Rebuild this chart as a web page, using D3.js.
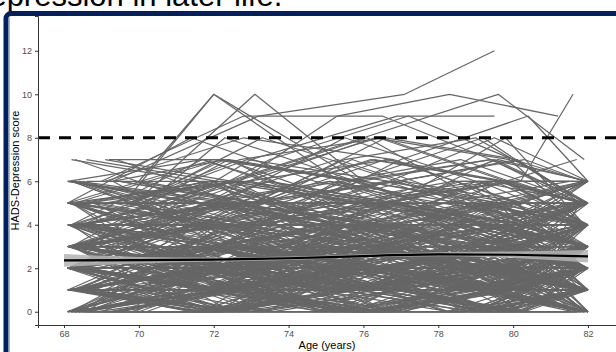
<!DOCTYPE html>
<html>
<head>
<meta charset="utf-8">
<script src="https://cdn.jsdelivr.net/npm/d3@7"></script>
<style>
  html, body { margin: 0; padding: 0; background: #fff; overflow: hidden; }
  svg { display: block; font-family: "Liberation Sans", Arial, sans-serif; }
</style>
</head>
<body>
<svg id="chart" width="616" height="352"></svg>
<script>
// ages at each visit, one row per participant
const visitAges = [
  [68.1,71.6,75.2,78.9,81.9],[68.2,72.1,75.9,79.3,82.0],[68.3,71.9,76.3,79.8,81.8],[68.4,72.4,75.6,79.1,81.9],
  [68.5,72.8,76.8,79.5,82.0],[68.1,71.4,75.0,78.6,81.7],[68.2,72.6,76.1,80.0,81.9],[68.3,71.7,75.4,78.4,82.0],
  [68.6,73.0,77.0,79.9,81.8],[68.2,72.2,76.5,79.6,82.0],[68.1,71.5,74.8,78.2,81.5],[68.4,72.0,75.7,79.0,81.9],
  [68.7,72.9,76.6,80.1,82.0],[68.3,71.8,75.3,78.8,81.6],[68.2,72.3,76.2,79.4,82.0],[68.5,72.5,76.9,80.3,81.9],
  [68.1,71.3,74.9,78.5,81.8],[68.9,73.2,77.2,80.2,82.0],[68.4,71.9,75.5,79.2,81.9],[68.2,72.7,76.4,79.7,82.0],
  [68.3,71.6,75.1,78.7,81.7],[68.6,72.1,75.8,79.5,82.0],[69.2,72.4,76.0,79.3,81.9],[68.1,72.0,76.7,80.0,81.8],
  [68.5,71.5,75.3,78.9,82.0],[68.2,72.8,76.3,79.8,81.9],[68.4,72.2,75.6,79.1,82.0],[68.3,71.4,74.7,78.3,81.6],
  [68.7,72.6,76.8,80.4,81.9],[68.1,71.8,75.9,79.6,82.0],[68.2,72.3,76.1,79.9,81.8],[68.5,73.1,77.3,80.2,82.0],
  [68.3,71.7,75.2,78.6,81.9],[68.9,72.9,76.5,79.4,82.0],[68.1,72.5,76.6,80.1,81.7],[68.4,71.6,75.0,78.5,81.9],
  [68.2,72.0,75.7,79.0,82.0],[68.6,72.7,76.9,79.7,81.8],[68.3,71.9,75.4,79.2,82.0],[68.1,72.4,76.2,79.5,81.9],
  [69.5,72.8,76.4,79.9,82.0],[69.8,73.3,77.1,80.3,81.9],[70.1,73.5,76.9,80.0,82.0],[69.3,72.5,75.8,79.1,81.7],
  [70.4,73.6,77.2,80.4,82.0],[69.0,72.2,75.5,78.8,81.8],[69.6,73.0,76.7,79.6,82.0],[70.0,73.4,77.0,80.2,81.9],
  [69.4,72.7,76.1,79.4,82.0],[68.8,72.1,75.6,78.9,81.6],[69.9,73.1,76.6,79.8,81.9],[69.1,72.6,76.3,79.3,82.0],
  [70.3,73.2,76.8,80.1,81.8],[68.6,71.9,75.3,78.6,82.0],[69.7,72.9,76.5,79.7,81.9],[68.2,71.5,75.1,78.4,81.9],
  [68.3,72.3,76.0,79.6,82.0],[68.1,71.8,75.8,79.3,81.8],[68.4,72.6,76.7,80.0,82.0],[68.2,71.4,74.8,78.1,81.9],
  [68.5,72.9,76.4,79.9,82.0],[68.3,72.1,75.5,78.8,81.7],[68.1,72.4,76.9,80.3,81.9],[68.6,71.6,75.0,78.5,82.0],
  [68.2,72.2,76.6,79.5,81.8],[68.4,71.7,75.9,79.8,82.0],[68.1,72.8,77.1,80.1,81.9],[68.3,71.5,74.6,78.2,81.6],
  [68.5,72.0,76.2,79.4,82.0],[68.2,72.7,76.8,79.7,81.9],[68.7,71.8,75.2,78.7,82.0],[68.1,72.3,75.7,79.1,81.8],
  [68.4,72.5,76.3,79.6,82.0],[68.2,71.3,75.4,79.0,81.9],[68.3,72.9,77.0,80.2,82.0],[68.6,72.1,75.6,78.9,81.7],
  [68.1,71.9,76.1,79.9,82.0],[68.5,72.6,76.5,79.2,81.9],[68.2,71.6,74.9,78.3,82.0],[68.4,72.4,76.7,80.4,81.8],
  [69.2,72.3,75.7,79.0,82.0],[69.6,73.3,77.2,80.1,81.9],[70.2,73.5,76.6,79.5,82.0],[69.0,72.0,75.3,78.6,81.7],
  [69.4,72.8,76.2,79.8,81.9],[70.0,73.1,76.9,80.3,82.0],[68.8,72.5,75.9,79.3,81.8],[69.8,73.0,76.4,79.7,82.0],
  [69.1,72.2,75.5,78.9,81.9],[70.4,73.4,77.3,80.0,82.0],
  [68.2,71.7,75.3,78.8,81.9],[68.5,72.4,76.1,79.6,82.0],[68.1,72.0,75.8,79.2,81.8],[68.3,72.8,76.6,80.0,82.0],
  [68.4,71.5,75.0,78.5,81.9],[68.7,72.6,76.3,79.7,82.0],[69.3,72.3,75.6,79.1,81.7],[68.2,71.9,76.0,79.4,82.0],
  [68.1,72.2,75.4,78.6,81.9],[68.6,73.0,76.8,80.2,82.0],[69.7,72.7,76.5,79.9,81.8],[68.3,71.6,75.2,78.7,82.0],
  [70.1,73.2,76.9,80.1,81.9],[68.2,72.5,76.2,79.3,82.0],[68.9,72.1,75.7,79.0,81.8],[68.4,72.9,77.1,80.3,82.0],
  [70.0,72.0,76.2,79.5,82.0],[69.6,72.0,75.9,79.2,81.8],[69.9,73.1,76.0,79.6,81.9],[69.2,72.7,75.3,78.3,81.2],
  [69.3,73.2,77.1,79.5],[70.1,73.0,76.9,79.5],[68.7,72.4,76.0,79.6,81.9],[68.3,71.8,75.6,80.2,81.6],
  [69.8,72.9,76.7,79.5,82.0],[69.0,72.8,76.5,79.4,81.8],
  [68.5,72.2,75.5,79.0,82.0],[69.4,73.4,76.8,79.8,81.9],[68.1,71.4,74.7,78.1,81.7],[70.3,73.6,77.0,80.4,82.0],
  [68.6,72.7,76.4,79.6,81.9],[69.1,72.5,76.1,79.2,81.8],[68.8,72.3,75.8,79.7,82.0],[69.5,73.1,76.6,80.1,81.9],
  [68.2,71.7,75.1,78.4,81.5],
  [68.1,72.1,76.0,79.1,81.9],[68.3,71.8,75.7,79.5,82.0],[68.2,72.6,76.3,80.0,81.8],[68.5,72.3,75.4,78.7,82.0],
  [68.1,71.5,75.5,79.4,81.9],[68.4,72.7,77.2,80.2,82.0],[68.2,71.9,75.9,79.0,81.7],[68.6,72.4,76.4,79.7,82.0],
  [68.3,72.0,75.3,78.6,81.9],[68.1,72.8,76.7,80.1,82.0],[69.2,72.6,76.0,79.6,81.8],[69.7,73.2,76.8,80.3,82.0],
  [70.2,73.4,77.1,79.9,81.9],[69.5,72.4,75.8,79.2,82.0],[69.0,72.9,76.5,79.8,81.7],[68.8,72.0,75.4,78.9,82.0],
  [70.0,73.3,76.9,80.4,81.9],[69.4,72.5,76.2,79.4,82.0],[68.4,71.6,75.6,79.3,81.8],[68.2,72.2,76.1,79.6,82.0],
  [68.5,71.7,74.8,78.3,81.9],[68.1,72.5,76.6,80.0,82.0],[68.3,71.4,75.2,78.8,81.6],[68.7,72.8,77.0,79.7,81.9],
  [68.2,72.1,75.6,79.1,82.0],
  [68.4,72.3,75.9],[68.1,71.8],[69.3,72.9,76.4],[68.6,72.6,76.1,79.3],[68.2,72.0,75.5],
  // low scorers
  [68.1,71.9,75.4,79.0,82.0],[68.2,72.4,76.0,79.7,81.9],[68.3,71.5,75.8,79.2,81.8],[68.1,72.7,76.5,80.0,82.0],
  [68.4,72.0,75.1,78.6,81.9],[68.2,71.7,76.2,79.9,82.0],[68.5,72.5,76.8,80.2,81.7],[68.1,72.2,75.6,79.4,82.0],
  [68.3,71.3,74.9,78.5,81.9],[68.6,72.8,77.1,80.3,82.0],[68.2,72.1,75.3,78.9,81.8],[68.1,71.6,75.7,79.5,82.0],
  [68.4,72.6,76.4,79.8,81.9],[68.3,72.3,75.9,79.1,82.0],[68.2,71.8,75.0,78.4,81.7],[68.7,72.9,76.7,80.1,82.0],
  [68.1,72.0,76.1,79.6,81.9],[68.5,71.4,74.8,78.2,81.8],[68.2,72.5,76.6,80.4,82.0],[68.4,71.9,75.5,79.3,81.9],
  [69.1,72.4,75.9,79.5,82.0],[69.4,72.9,76.3,79.9,81.8],[69.8,73.3,76.8,80.2,82.0],[70.2,73.5,77.0,80.0,81.9],
  [69.6,72.6,76.0,79.4,82.0],[69.0,72.1,75.4,78.7,81.7],[70.0,73.2,76.6,79.8,82.0],[69.3,72.8,76.4,79.6,81.9],
  [70.4,73.6,77.2,80.3,82.0],[69.7,73.0,76.5,79.7,81.8],[68.1,71.7,75.3,78.8,82.0],[68.3,72.4,76.3,79.9,81.9],
  [68.2,71.5,75.6,79.2,82.0],[68.6,72.2,75.8,79.4,81.8],[68.1,72.9,77.0,80.1,82.0],[68.4,71.8,75.2,78.6,81.9],
  [68.2,72.6,76.7,80.3,82.0],[68.5,72.1,75.5,79.0,81.7],[68.3,71.6,74.7,78.3,82.0],[68.1,72.3,76.2,79.7,81.9],
  [68.2,72.8,76.9,80.0,82.0],[68.4,71.4,75.0,78.5,81.8],[68.7,72.5,76.1,79.6,82.0],[68.1,72.0,75.7,79.1,81.9],
  [68.3,72.7,76.6,79.9,82.0],[68.2,71.9,75.4,78.9,81.6],[68.5,72.4,76.4,80.2,82.0],[68.1,71.6,75.1,78.7,81.9],
  [68.6,72.6,76.8,79.8,82.0],[68.2,72.2,75.9,79.3,81.8],
  // middle scorers
  [68.1,72.1,75.6,79.2,82.0],[68.3,71.8,76.0,79.7,81.9],[68.2,72.5,76.5,80.1,82.0],[68.4,71.5,75.1,78.6,81.8],
  [68.1,72.8,76.8,80.3,82.0],[68.5,72.3,75.8,79.4,81.9],[68.2,71.7,75.4,79.0,82.0],[68.3,72.6,76.3,79.9,81.7],
  [68.1,72.0,75.9,79.5,82.0],[68.6,71.9,75.3,78.8,81.9],[68.2,72.4,76.6,80.0,82.0],[68.4,71.6,75.0,78.4,81.8],
  [68.1,72.7,76.9,80.2,82.0],[68.3,72.2,75.7,79.3,81.9],[68.2,71.4,74.9,78.5,82.0],[69.2,72.7,76.2,79.6,81.9],
  [69.6,73.1,76.7,80.0,82.0],[70.1,73.4,77.0,80.4,81.8],[69.4,72.5,75.9,79.3,82.0],[69.9,73.2,76.5,79.8,81.9],
  [69.0,72.3,75.6,79.0,82.0],[70.3,73.5,76.9,80.1,81.7],[69.5,72.8,76.3,79.7,82.0],[68.9,72.0,75.5,78.9,81.9],
  [69.8,73.0,76.6,80.2,82.0],[68.1,71.8,75.5,79.1,81.9],[68.4,72.5,76.4,79.8,82.0],[68.2,72.0,75.2,78.7,81.8],
  [68.5,71.6,75.7,79.4,82.0],[68.1,72.9,77.1,80.3,81.9],[68.3,72.3,76.0,79.6,82.0],[68.2,71.5,74.8,78.3,81.7],
  [68.6,72.7,76.7,80.1,82.0],[68.1,72.2,75.8,79.2,81.9],[68.4,71.9,75.4,78.9,82.0],[68.2,72.6,76.5,80.0,81.8],
  [68.3,71.7,75.1,78.6,82.0],[68.1,72.4,76.2,79.7,81.9],[68.7,72.1,75.6,79.3,82.0],[68.2,72.8,76.9,80.4,81.8],
  [69.3,72.4,75.7,79.1,82.0],[69.7,72.9,76.4,79.9,81.9],[70.0,73.3,76.8,80.2,82.0],[69.1,72.6,76.1,79.5,81.8],
  [70.4,73.6,77.3,80.0,82.0],[68.3,71.3,74.6,78.2,81.9],[68.1,72.5,76.7,79.8,82.0],[68.5,72.1,75.3,78.8,81.7],
  [68.2,71.8,75.9,79.5,82.0],[68.4,72.7,76.6,80.3,81.9],
  // very low scorers
  [68.1,72.3,75.8,79.4,82.0],[68.2,71.6,75.3,78.9,81.9],[68.3,72.5,76.6,80.1,82.0],[68.1,71.9,75.6,79.2,81.8],
  [68.4,72.8,76.9,80.3,82.0],[68.2,72.0,75.1,78.6,81.9],[68.5,71.5,75.7,79.5,82.0],[68.1,72.6,76.4,79.9,81.7],
  [68.3,72.2,75.9,79.1,82.0],[68.2,71.7,74.9,78.5,81.9],[68.6,72.4,76.2,79.7,82.0],[68.1,72.9,77.0,80.2,81.8],
  [68.4,71.8,75.5,79.0,82.0],[68.2,72.1,76.1,79.6,81.9],[68.3,71.4,74.7,78.3,82.0],[68.1,72.7,76.8,80.0,81.9],
  [68.5,72.3,75.4,78.8,82.0],[68.2,71.9,75.9,79.4,81.7],[68.4,72.6,76.5,80.4,82.0],[68.1,71.5,75.2,78.7,81.9],
  [69.2,72.5,76.0,79.5,82.0],[69.5,72.9,76.4,79.8,81.9],[69.9,73.2,76.7,80.1,82.0],[70.3,73.5,77.1,80.3,81.8],
  [69.0,72.2,75.6,79.0,82.0],[69.7,73.0,76.5,79.7,81.9],[70.1,73.4,76.9,80.2,82.0],[69.3,72.7,76.2,79.6,81.7],
  [69.6,72.8,76.3,79.9,82.0],[68.8,72.1,75.5,78.9,81.9],[68.1,71.8,75.3,79.0,82.0],[68.3,72.4,76.3,79.8,81.9],
  [68.2,71.6,75.8,79.3,82.0],[68.4,72.7,76.7,80.1,81.8],[68.1,72.1,75.5,79.1,82.0],[68.5,71.9,75.0,78.4,81.9],
  [68.2,72.5,76.4,79.9,82.0],[68.3,71.5,75.6,79.4,81.7],[68.1,72.8,76.9,80.3,82.0],[68.6,72.2,75.7,79.2,81.9],
  [68.2,71.7,75.1,78.6,82.0],[68.4,72.4,76.6,80.0,81.8],[68.1,72.0,75.9,79.6,82.0],[68.3,72.6,76.2,79.7,81.9],
  [68.2,71.4,74.8,78.2,82.0],[69.1,72.3,75.8,79.3,81.9],[69.4,72.6,76.1,79.6,82.0],[69.8,73.1,76.6,80.0,81.8],
  [70.2,73.3,76.8,80.4,82.0],[69.5,72.9,76.3,79.8,81.9],[68.1,72.2,75.7,79.3,82.0],[68.3,71.7,75.4,79.0,81.9],
  [68.2,72.6,76.5,80.2,82.0],[68.5,72.0,75.2,78.8,81.8],[68.1,71.6,75.9,79.5,82.0],[68.4,72.9,77.1,80.1,81.9],
  [68.2,72.3,76.0,79.6,82.0],[68.3,71.8,75.3,78.7,81.7],[68.1,72.5,76.7,80.3,82.0],[68.6,72.1,75.6,79.2,81.9],
  // fluctuating scorers
  [68.1,72.2,76.0,79.6,82.0],[68.2,71.7,75.5,79.1,81.9],[68.3,72.6,76.6,80.1,82.0],[68.1,71.9,75.2,78.7,81.8],
  [68.4,72.4,76.3,79.9,82.0],[68.2,71.5,75.8,79.4,81.9],[68.1,72.8,76.9,80.2,82.0],[68.5,72.0,75.4,78.9,81.7],
  [68.3,72.3,76.1,79.7,82.0],[68.2,71.6,75.0,78.5,81.9],[68.1,72.5,76.5,80.0,82.0],[68.6,72.1,75.7,79.2,81.8],
  [68.2,71.8,75.3,78.8,82.0],[68.4,72.7,76.8,80.3,81.9],[68.1,72.0,75.9,79.5,82.0],[68.3,71.4,74.8,78.3,81.6],
  [68.2,72.9,77.1,80.4,82.0],[68.5,72.4,76.2,79.8,81.9],[68.1,71.7,75.6,79.0,82.0],[68.3,72.6,76.4,79.6,81.8],
  [69.2,72.5,76.0,79.4,82.0],[69.6,73.0,76.5,79.9,81.9],[70.0,73.3,76.8,80.2,82.0],[69.4,72.8,76.3,79.7,81.8],
  [70.3,73.5,77.1,80.0,82.0],[69.0,72.2,75.5,79.1,81.9],[69.8,73.1,76.6,80.3,82.0],[69.3,72.6,76.1,79.5,81.7],
  [70.1,73.4,76.9,80.1,82.0],[68.9,72.3,75.7,79.3,81.9],[68.1,72.1,75.4,79.0,82.0],[68.2,72.7,76.7,80.2,81.9],
  [68.4,71.6,75.1,78.6,82.0],[68.1,72.4,76.2,79.8,81.8],[68.3,71.9,75.8,79.3,82.0],[68.5,72.8,77.0,80.1,81.9],
  [68.2,72.2,75.6,79.1,82.0],[68.1,71.5,74.9,78.4,81.7],[68.6,72.5,76.4,79.9,82.0],[68.2,72.0,75.3,78.9,81.9],
  [68.3,72.6,76.8,80.4,82.0],[68.1,71.8,75.5,79.2,81.8],[68.4,72.3,76.0,79.6,82.0],[68.2,72.9,76.9,80.0,81.9],
  [68.1,71.6,75.2,78.7,82.0],[68.5,72.1,75.9,79.4,81.6],[68.3,72.7,76.6,80.2,82.0],[68.2,71.4,74.7,78.2,81.9],
  [68.1,72.4,76.3,79.7,82.0],[68.7,72.0,75.6,79.1,81.8],[69.1,72.4,75.8,79.2,82.0],[69.5,72.7,76.2,79.6,81.9],
  [69.9,73.2,76.7,80.1,82.0],[70.2,73.6,77.2,80.3,81.8],[69.7,72.9,76.4,79.8,82.0],[68.8,72.2,75.6,79.0,81.9],
  [69.4,72.5,75.9,79.3,82.0],[70.4,73.3,76.7,79.9,81.9],[69.0,72.8,76.3,79.7,82.0],[69.6,73.1,76.5,80.0,81.7],
  // higher scorers
  [68.3,72.2,75.9,79.4,82.0],[68.1,71.7,75.4,79.1,81.9],[68.6,72.9,76.7,80.2,82.0],[69.4,72.6,76.2,79.7,81.8],
  [68.2,72.4,76.0,79.5,82.0],[69.9,73.3,76.9,80.3,81.9],[68.4,71.8,75.5,79.0,82.0],[70.2,73.5,77.2,80.0,81.9],
  [68.1,72.6,76.4,79.8,81.7],[69.1,72.8,76.8,80.1,82.0],[68.5,72.3,75.7,79.2,81.8],[68.2,71.6,75.1,78.6,82.0],
  [69.6,72.9,76.3,79.9,81.9],[68.7,72.0,75.6,79.4,82.0]
];

// HADS depression score at each visit, same order as visitAges
const hadsScores = [
  [2,3,2,1,2],[1,0,2,2,3],[3,2,4,3,2],[0,1,0,2,1],
  [4,3,5,4,3],[2,2,1,3,2],[5,4,3,4,5],[1,2,3,2,1],
  [0,0,1,0,2],[3,4,2,3,3],[6,5,4,5,6],[2,1,2,1,0],
  [1,3,2,2,4],[3,3,4,2,2],[0,2,1,1,0],[4,2,3,5,4],
  [1,1,0,2,3],[2,4,3,2,2],[5,6,4,3,4],[2,0,1,3,2],
  [7,5,6,4,5],[7,6,5,6,4],[7,7,6,5,5],[3,2,0,1,1],
  [1,0,2,0,1],[4,5,3,4,6],[2,3,3,2,1],[0,1,1,0,0],
  [3,1,2,4,3],[5,3,4,2,3],[1,2,2,3,2],[6,4,5,3,4],
  [2,1,3,1,2],[0,1,0,1,2],[3,4,3,5,3],[4,2,1,2,3],
  [2,2,3,4,2],[1,3,1,0,1],[5,5,6,4,3],[0,2,2,1,1],
  [3,2,4,3,4],[2,1,0,2,3],[4,6,5,3,4],[1,0,1,2,0],
  [2,4,3,3,2],[3,3,2,4,5],[5,4,6,5,4],[1,2,1,1,3],
  [0,0,2,1,1],[2,3,1,2,2],[6,5,7,6,5],[3,1,2,1,2],
  [2,2,4,3,1],[4,3,3,2,4],[1,2,0,1,0],[2,4,3,3,2],
  [0,1,1,2,1],[3,2,2,0,1],[2,2,3,3,4],[1,3,2,1,2],
  [5,3,4,4,2],[2,1,1,2,1],[4,4,2,3,3],[0,2,0,1,3],
  [3,5,4,2,3],[1,1,2,2,0],[2,0,3,1,2],[6,4,3,4,5],
  [1,2,1,3,2],[3,3,5,4,4],[2,1,0,0,1],[4,2,3,5,3],
  [0,1,2,1,1],[2,3,2,3,5],[1,0,1,2,2],[3,4,4,3,2],
  [5,4,2,3,4],[2,2,1,0,1],[1,2,3,2,3],[3,1,2,2,2],
  [2,3,3,1,2],[4,5,3,4,3],[1,1,2,3,2],[0,2,1,1,2],
  [3,2,4,2,1],[2,3,2,4,3],[4,3,5,3,4],[1,0,0,1,0],
  [5,6,4,4,3],[2,1,3,2,3],
  [6,5,7,5,4],[4,6,5,7,6],[5,7,6,4,5],[6,4,6,5,6],
  [5,5,4,6,3],[3,5,7,6,4],[6,7,5,5,4],[4,6,4,3,5],
  [5,3,6,7,5],[6,6,4,5,6],[5,7,8,6,5],[4,4,5,3,5],
  [6,5,6,7,5],[3,5,4,6,6],[5,4,7,5,3],[4,5,5,4,6],
  [6,10,5,4,3],[5,10,6,4,4],[5,10,6,5,6],[5,6,9,10,9],
  [6,9,10,12],[4,7,9,9],[4,6,8,10,7],[3,4,5,6,10],
  [5,7,6,8,6],[6,9,9,7,5],
  [4,5,8,6,5],[3,6,5,8,4],[5,8,6,5,4],[2,4,7,9,6],
  [2,5,3,6,5],[7,6,8,5,4],[3,8,6,4,3],[6,5,8,7,5],
  [4,7,5,6,6],
  [0,0,0,1,1],[1,1,0,0,0],[0,1,1,1,2],[2,2,2,3,3],
  [1,0,1,1,0],[3,2,3,2,4],[0,0,2,0,0],[2,1,1,2,3],
  [1,2,0,1,1],[2,3,2,2,1],[0,1,0,0,1],[1,1,3,2,2],
  [0,2,1,0,0],[2,0,1,1,2],[3,1,0,2,1],[1,3,1,0,2],
  [0,0,1,2,0],[2,2,0,1,3],[0,1,3,1,0],[3,0,2,2,1],
  [1,2,2,0,1],[2,1,3,3,2],[0,2,1,2,0],[1,0,0,1,3],
  [4,3,2,1,2],
  [3,4,6],[2,5],[1,3,2],[4,2,3,5],[0,2,4],
  // low scorers
  [1,2,1,2,2],[2,1,3,2,2],[0,1,2,1,1],[3,2,2,3,2],
  [2,3,1,1,2],[1,0,0,2,1],[3,3,2,1,3],[2,2,4,3,2],
  [0,1,2,2,0],[4,3,3,2,3],[1,1,1,0,2],[2,0,1,3,3],
  [3,4,2,2,1],[1,2,2,1,0],[2,1,3,4,2],[0,2,1,1,1],
  [3,2,3,2,4],[1,3,2,0,1],[2,2,1,2,3],[0,0,1,1,2],
  [2,3,3,2,2],[1,2,0,1,1],[3,1,2,3,2],[2,2,3,1,0],
  [4,3,2,2,3],[1,1,2,3,1],[0,2,2,1,2],[2,4,3,3,2],
  [1,0,1,0,1],[3,2,4,2,3],[2,1,2,2,1],[1,3,2,3,2],
  [3,2,1,1,0],[0,1,0,2,1],[2,2,2,1,3],[4,2,3,3,2],
  [1,1,3,2,2],[2,0,1,1,1],[3,3,2,4,3],[0,1,2,0,2],
  [2,3,1,2,1],[1,2,2,3,3],[3,1,0,1,2],[2,2,3,2,2],
  [1,0,2,2,1],[0,2,1,1,0],[2,1,2,3,4],[3,4,2,1,2],
  [1,1,1,2,2],[2,3,3,2,1],
  // middle scorers
  [4,3,5,4,3],[5,4,3,4,5],[3,5,4,3,4],[4,4,6,5,3],
  [5,3,4,5,4],[3,4,3,5,5],[6,5,4,4,3],[4,5,5,3,4],
  [3,3,5,4,6],[5,6,4,3,4],[4,2,4,5,3],[3,4,4,2,5],
  [5,5,3,4,4],[4,3,6,4,3],[6,4,5,3,4],[4,5,3,5,4],
  [5,4,5,4,6],[3,5,4,3,5],[4,6,5,4,3],[5,3,4,6,4],
  [3,4,5,5,4],[4,4,3,4,5],[6,5,5,3,4],[4,3,4,5,3],
  [5,5,6,4,5],[3,5,3,4,4],[4,4,5,6,4],[5,3,4,3,5],
  [4,5,4,4,3],[3,4,6,5,4],[6,4,4,5,5],[4,3,5,4,3],
  [5,6,5,3,4],[4,4,3,5,6],[3,5,4,4,4],[5,4,5,6,5],
  [4,6,4,3,4],[6,5,3,4,3],[3,3,4,5,5],[4,5,6,4,4],
  [5,4,4,3,5],[4,6,5,5,4],[6,4,5,4,3],[3,5,4,6,5],
  [5,3,4,4,4],[4,4,5,3,3],[5,5,4,5,6],[4,3,6,4,4],
  [3,4,4,5,3],[6,5,5,4,5],
  // very low scorers
  [0,0,1,0,0],[1,0,0,1,1],[0,1,0,0,1],[2,1,0,0,0],
  [1,1,1,0,2],[0,0,2,1,0],[1,2,0,0,1],[0,1,1,2,0],
  [2,0,1,1,1],[1,1,0,2,2],[0,0,0,1,0],[1,2,1,0,1],
  [2,2,0,1,0],[0,1,2,2,1],[1,0,1,1,2],[3,2,1,0,1],
  [0,0,1,2,1],[2,1,1,0,0],[1,0,2,1,1],[0,2,0,0,2],
  [1,1,0,1,0],[0,1,1,0,1],[2,0,0,1,2],[1,2,1,1,0],
  [0,0,2,0,1],[1,1,0,2,2],[3,2,2,1,1],[0,1,0,0,0],
  [2,2,1,3,2],[1,0,1,1,1],[2,3,2,2,3],[3,2,3,1,2],
  [2,2,1,2,2],[3,3,2,2,1],[1,2,3,3,2],[2,1,2,3,3],
  [3,2,2,1,2],[2,3,3,2,1],[1,2,2,2,3],[3,3,1,2,2],
  [2,2,2,3,1],[1,3,2,1,2],[3,1,2,2,3],[2,2,3,2,2],
  [1,1,2,2,1],[2,3,2,1,3],[3,2,2,3,2],[2,1,3,2,2],
  [1,2,2,2,1],[3,3,2,1,2],[2,1,1,3,2],[1,2,3,2,2],
  [2,3,1,1,2],[3,2,2,2,3],[2,2,3,1,1],[1,1,2,3,2],
  [3,2,1,2,1],[2,3,2,2,2],[1,2,2,1,3],[2,1,3,2,2],
  // fluctuating scorers
  [0,3,1,4,2],[3,0,4,1,3],[1,4,0,3,0],[4,1,3,0,2],
  [2,5,1,4,1],[5,2,4,1,3],[0,2,5,2,0],[3,6,2,5,2],
  [1,3,0,2,5],[4,0,2,4,1],[2,0,3,0,3],[0,4,2,1,4],
  [5,1,3,5,2],[1,5,3,0,2],[3,1,5,2,0],[2,4,0,3,1],
  [6,3,5,2,4],[0,2,4,1,3],[4,2,0,3,5],[1,4,2,5,1],
  [3,0,2,4,1],[0,3,1,3,0],[5,2,4,1,2],[2,5,2,0,4],
  [1,3,5,2,1],[4,1,0,3,2],[0,2,4,3,0],[6,3,2,5,3],
  [2,0,3,1,4],[3,5,1,2,0],[1,4,1,3,1],[4,1,4,0,2],
  [0,3,0,2,4],[2,5,3,1,3],[5,3,1,4,2],[1,0,3,5,2],
  [3,1,4,2,0],[0,2,0,3,1],[4,6,3,4,1],[2,0,2,5,3],
  [1,3,5,3,4],[3,1,2,0,2],[0,4,1,2,0],[5,2,0,2,4],
  [2,4,2,4,2],[1,0,4,1,3],[4,2,5,3,1],[0,3,2,0,2],
  [3,5,2,3,5],[2,1,4,2,1],[1,4,2,0,3],[3,1,5,2,2],
  [0,3,1,4,1],[4,2,3,1,5],[2,4,0,2,3],[5,2,3,6,2],
  [0,1,3,0,2],[3,0,2,3,0],[1,2,4,2,4],[4,3,1,3,2],
  // higher scorers
  [5,7,6,7,5],[6,7,5,6,4],[4,6,7,5,6],[7,5,7,6,5],
  [3,7,4,7,5],[5,8,6,7,6],[6,4,7,8,5],[4,7,9,7,6],
  [5,6,8,6,7],[6,8,7,5,6],[4,7,6,8,5],[7,6,4,6,6],
  [3,6,8,7,4],[5,4,6,7,6]
];

// smoothed group trajectory with its confidence band
const meanAges = [68, 70, 72, 74, 76, 78, 80, 82];
const meanScores = [2.36, 2.37, 2.40, 2.46, 2.56, 2.64, 2.62, 2.55];
const meanLower = [2.07, 2.22, 2.31, 2.38, 2.48, 2.55, 2.47, 2.26];
const meanUpper = [2.65, 2.52, 2.49, 2.54, 2.64, 2.73, 2.77, 2.84];

const xTicks = [68, 70, 72, 74, 76, 78, 80, 82];
const yTicks = [0, 2, 4, 6, 8, 10, 12];
const cutoff = 8;

const svg = d3.select("#chart");

// slide title, mostly cropped off the top
svg.append("text")
  .attr("x", -33)
  .attr("y", 6)
  .attr("font-size", 31)
  .attr("fill", "#000")
  .text("Depression in later life.");

// slide frame
svg.append("rect")
  .attr("x", 6).attr("y", 13.5)
  .attr("width", 900).attr("height", 500)
  .attr("rx", 5)
  .attr("fill", "#fff")
  .attr("stroke", "#002060")
  .attr("stroke-width", 5);
svg.append("line")
  .attr("x1", 9.5).attr("x2", 9.5)
  .attr("y1", 18).attr("y2", 352)
  .attr("stroke", "#9fb8e0")
  .attr("stroke-width", 1);

const x = d3.scaleLinear().domain([67.305, 82.748]).range([38, 616]);
const y = d3.scaleLinear().domain([-0.61, 13.6]).range([325, 16]);

// individual trajectories
const line = d3.line()
  .x(d => x(d[0]))
  .y(d => y(d[1]));

svg.append("g")
  .selectAll("path")
  .data(visitAges.map((ages, i) => ages.map((a, j) => [a, hadsScores[i][j]])))
  .join("path")
  .attr("d", line)
  .attr("fill", "none")
  .attr("stroke", "#666666")
  .attr("stroke-width", 1.25)
  .attr("stroke-linejoin", "round");

// smoothed mean + band
const meanData = meanAges.map((a, i) => ({age: a, m: meanScores[i], lo: meanLower[i], hi: meanUpper[i]}));

svg.append("path")
  .datum(meanData)
  .attr("d", d3.area()
    .curve(d3.curveMonotoneX)
    .x(d => x(d.age))
    .y0(d => y(d.lo))
    .y1(d => y(d.hi)))
  .attr("fill", "#b3b3b3")
  .attr("opacity", 0.85);

svg.append("path")
  .datum(meanData)
  .attr("d", d3.line()
    .curve(d3.curveMonotoneX)
    .x(d => x(d.age))
    .y(d => y(d.m)))
  .attr("fill", "none")
  .attr("stroke", "#000")
  .attr("stroke-width", 2.2);

// caseness cutoff
svg.append("line")
  .attr("x1", x.range()[0]).attr("x2", x.range()[1])
  .attr("y1", y(cutoff)).attr("y2", y(cutoff))
  .attr("stroke", "#000")
  .attr("stroke-width", 2.8)
  .attr("stroke-dasharray", "12,9");

// axes
const xAxis = svg.append("g")
  .attr("transform", "translate(0," + y.range()[0] + ")")
  .call(d3.axisBottom(x).tickValues(xTicks).tickSizeOuter(0).tickSize(3).tickPadding(3));
const yAxis = svg.append("g")
  .attr("transform", "translate(" + x.range()[0] + ",0)")
  .call(d3.axisLeft(y).tickValues(yTicks).tickSizeOuter(0).tickSize(3).tickPadding(3));

[xAxis, yAxis].forEach(g => {
  g.select(".domain").attr("stroke", "#333").attr("stroke-width", 1);
  g.selectAll(".tick line").attr("stroke", "#333");
  g.selectAll(".tick text")
    .attr("fill", "#4d4d4d")
    .attr("font-size", 9)
    .attr("font-family", "Liberation Sans, Arial, sans-serif");
});

svg.append("text")
  .attr("x", (x.range()[0] + x.range()[1]) / 2)
  .attr("y", 349)
  .attr("text-anchor", "middle")
  .attr("font-size", 11)
  .text("Age (years)");

svg.append("text")
  .attr("transform", "translate(19," + ((y.range()[0] + y.range()[1]) / 2) + ") rotate(-90)")
  .attr("text-anchor", "middle")
  .attr("font-size", 11)
  .text("HADS-Depression score");
</script>
</body>
</html>
